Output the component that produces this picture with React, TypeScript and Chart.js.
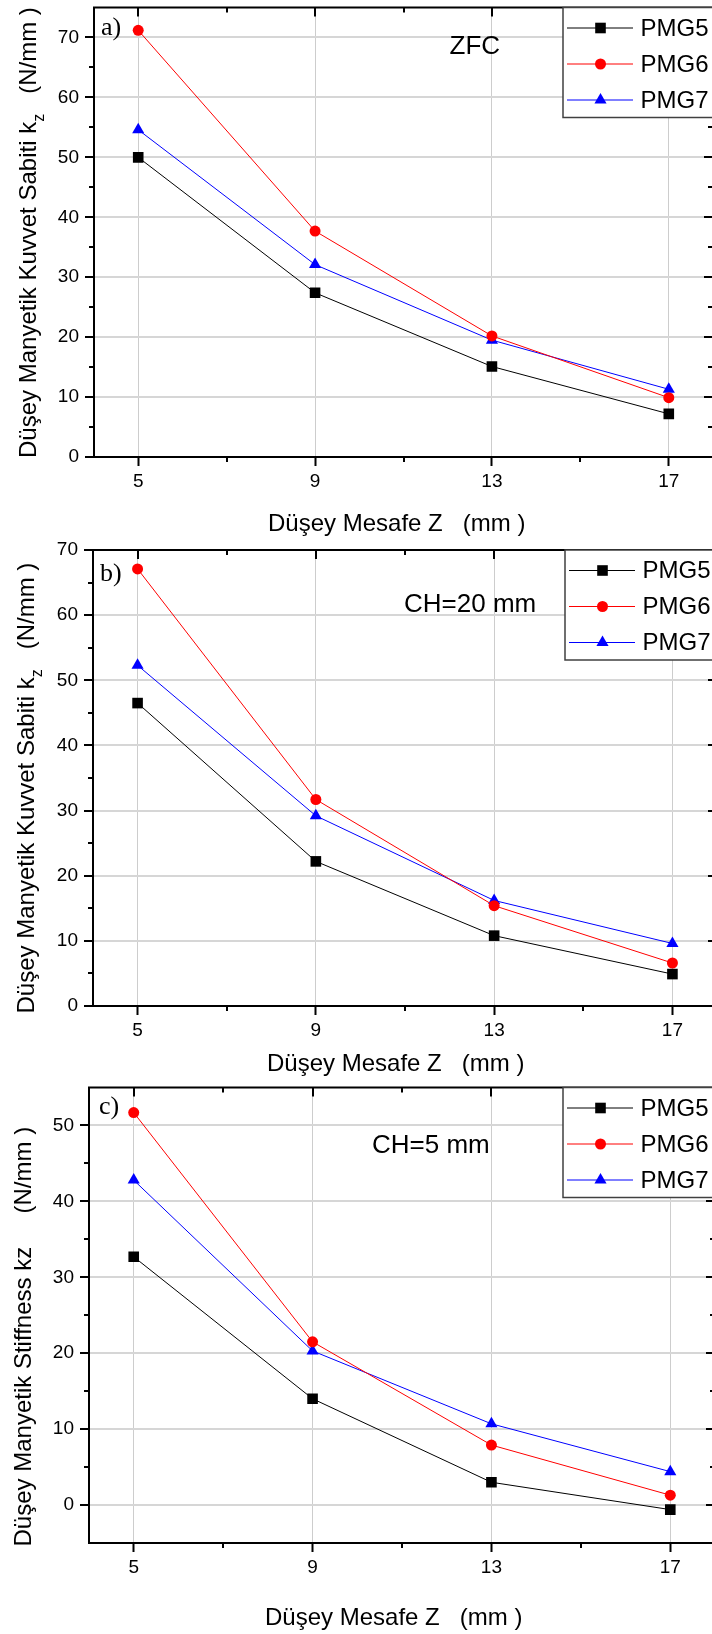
import React, { useEffect, useRef } from "react";
import { Chart, registerables } from "chart.js";

Chart.register(...registerables);

// ---------- data ----------
const distances = [5, 9, 13, 17];
const seriesNames = ["PMG5", "PMG6", "PMG7"];

// a) ZFC
const zfcPMG5 = [50.0, 27.4, 15.1, 7.2];
const zfcPMG6 = [71.2, 37.7, 20.2, 9.9];
const zfcPMG7 = [54.6, 32.1, 19.5, 11.3];

// b) CH = 20 mm
const ch20PMG5 = [46.5, 22.2, 10.8, 4.9];
const ch20PMG6 = [67.1, 31.7, 15.4, 6.6];
const ch20PMG7 = [52.3, 29.2, 16.2, 9.6];

// c) CH = 5 mm
const ch5PMG5 = [32.7, 14.0, 3.0, -0.6];
const ch5PMG6 = [51.7, 21.5, 7.9, 1.3];
const ch5PMG7 = [42.8, 20.3, 10.7, 4.4];

const xTicks = [5, 9, 13, 17];
const yTicksAB = [0, 10, 20, 30, 40, 50, 60, 70];
const yTicksC = [0, 10, 20, 30, 40, 50];

// ---------- styles ----------
const SANS = '"Liberation Sans", Arial, Helvetica, sans-serif';
const SERIF = '"Liberation Serif", "Times New Roman", serif';
const seriesColors = ["#000000", "#ff0000", "#0000ff"];
const seriesStyles = ["rect", "circle", "triangle"];
const seriesRadius = [7.5, 5.5, 7];

const CANVAS_W = 740;

type Part = { text: string; sub?: boolean };

type Panel = {
  canvasTop: number;
  canvasH: number;
  area: { left: number; top: number; right: number; bottom: number };
  xRange: [number, number];
  yRange: [number, number];
  yTicks: number[];
  series: number[][];
  tag: string;
  tagPos: [number, number];
  note: string;
  notePos: [number, number];
  yTitle: Part[];
  yTitlePos: [number, number];
  xTitle: string;
  xTitlePos: [number, number];
  legendLeft: number;
};

const panels: Panel[] = [
  {
    canvasTop: 0,
    canvasH: 540,
    area: { left: 94, top: 5, right: 713, bottom: 457 },
    xRange: [4, 18],
    yRange: [0, 75],
    yTicks: yTicksAB,
    series: [zfcPMG5, zfcPMG6, zfcPMG7],
    tag: "a)",
    tagPos: [101, 35],
    note: "ZFC",
    notePos: [449.5, 54],
    yTitle: [
      { text: "Düşey Manyetik Kuvvet Sabiti k" },
      { text: "z", sub: true },
      { text: "   (N/mm )" },
    ],
    yTitlePos: [35.5, 458],
    xTitle: "Düşey Mesafe Z   (mm )",
    xTitlePos: [268, 530.5],
    legendLeft: 563,
  },
  {
    canvasTop: 540,
    canvasH: 540,
    area: { left: 93, top: 10, right: 717, bottom: 466 },
    xRange: [4, 18],
    yRange: [0, 70],
    yTicks: yTicksAB,
    series: [ch20PMG5, ch20PMG6, ch20PMG7],
    tag: "b)",
    tagPos: [100, 40.5],
    note: "CH=20 mm",
    notePos: [404, 72],
    yTitle: [
      { text: "Düşey Manyetik Kuvvet Sabiti k" },
      { text: "z", sub: true },
      { text: "   (N/mm )" },
    ],
    yTitlePos: [34, 473.5],
    xTitle: "Düşey Mesafe Z   (mm )",
    xTitlePos: [267, 531],
    legendLeft: 565,
  },
  {
    canvasTop: 1080,
    canvasH: 554,
    area: { left: 89, top: 5, right: 715, bottom: 463 },
    xRange: [4, 18],
    yRange: [-5, 55],
    yTicks: yTicksC,
    series: [ch5PMG5, ch5PMG6, ch5PMG7],
    tag: "c)",
    tagPos: [99, 33.5],
    note: "CH=5 mm",
    notePos: [372, 73],
    yTitle: [{ text: "Düşey Manyetik Stiffness kz     (N/mm )" }],
    yTitlePos: [31, 466.5],
    xTitle: "Düşey Mesafe Z   (mm )",
    xTitlePos: [265, 545],
    legendLeft: 563,
  },
];

function minorValues(majors: number[], min: number, max: number): number[] {
  const out: number[] = [];
  const step = majors[1] - majors[0];
  const cands = [majors[0] - step / 2];
  for (let i = 0; i < majors.length - 1; i++) cands.push((majors[i] + majors[i + 1]) / 2);
  cands.push(majors[majors.length - 1] + step / 2);
  for (const c of cands) if (c > min && c < max) out.push(c);
  return out;
}

function drawMarker(ctx: CanvasRenderingContext2D, style: string, x: number, y: number, r: number, color: string) {
  ctx.save();
  ctx.fillStyle = color;
  ctx.beginPath();
  if (style === "rect") {
    const s = Math.SQRT1_2 * r;
    ctx.rect(x - s, y - s, 2 * s, 2 * s);
  } else if (style === "circle") {
    ctx.arc(x, y, r, 0, Math.PI * 2);
  } else {
    ctx.moveTo(x, y - r);
    ctx.lineTo(x + r * Math.sin((2 * Math.PI) / 3), y - r * Math.cos((2 * Math.PI) / 3));
    ctx.lineTo(x + r * Math.sin((4 * Math.PI) / 3), y - r * Math.cos((4 * Math.PI) / 3));
    ctx.closePath();
  }
  ctx.fill();
  ctx.restore();
}

const decorPlugin = {
  id: "decor",
  afterDraw(chart: any, _args: any, opts: any) {
    const p: Panel = opts.panel;
    const ctx: CanvasRenderingContext2D = chart.ctx;
    const { left, right, top, bottom } = chart.chartArea;
    const xs = chart.scales.x;
    const ys = chart.scales.y;
    ctx.save();
    ctx.strokeStyle = "#000";
    ctx.lineWidth = 2;

    // minor + mirrored ticks
    ctx.beginPath();
    for (const v of minorValues(xTicks, p.xRange[0], p.xRange[1])) {
      const px = Math.round(xs.getPixelForValue(v));
      ctx.moveTo(px, bottom);
      ctx.lineTo(px, bottom + 5);
      ctx.moveTo(px, top);
      ctx.lineTo(px, top + 5);
    }
    for (const v of xTicks) {
      const px = Math.round(xs.getPixelForValue(v));
      ctx.moveTo(px, top);
      ctx.lineTo(px, top + 9);
    }
    for (const v of minorValues(p.yTicks, p.yRange[0], p.yRange[1])) {
      const py = Math.round(ys.getPixelForValue(v));
      ctx.moveTo(left - 5, py);
      ctx.lineTo(left, py);
      ctx.moveTo(right - 5, py);
      ctx.lineTo(right, py);
    }
    for (const v of p.yTicks) {
      const py = Math.round(ys.getPixelForValue(v));
      ctx.moveTo(right - 9, py);
      ctx.lineTo(right, py);
    }
    ctx.stroke();

    // frame
    ctx.strokeRect(left, top, right - left, bottom - top);

    // legend
    const lx = p.legendLeft;
    ctx.fillStyle = "#fff";
    ctx.fillRect(lx, top, right + 10 - lx, 110);
    ctx.strokeStyle = "#404040";
    ctx.lineWidth = 1.5;
    ctx.strokeRect(lx, top, right + 10 - lx, 110);
    chart.data.datasets.forEach((ds: any, i: number) => {
      const ry = top + 20.5 + i * 36;
      ctx.strokeStyle = ds.borderColor;
      ctx.lineWidth = 1;
      ctx.beginPath();
      ctx.moveTo(lx + 4, ry);
      ctx.lineTo(lx + 70, ry);
      ctx.stroke();
      drawMarker(ctx, ds.pointStyle, lx + 37.5, ry, ds.pointRadius, ds.backgroundColor);
      ctx.fillStyle = "#000";
      ctx.font = `24px ${SANS}`;
      ctx.textAlign = "left";
      ctx.textBaseline = "middle";
      ctx.fillText(ds.label, lx + 77.5, ry + 1);
    });

    // panel tag & note
    ctx.fillStyle = "#000";
    ctx.textBaseline = "alphabetic";
    ctx.textAlign = "left";
    ctx.font = `26px ${SERIF}`;
    ctx.fillText(p.tag, p.tagPos[0], p.tagPos[1]);
    ctx.font = `26px ${SANS}`;
    ctx.fillText(p.note, p.notePos[0], p.notePos[1]);

    // x title
    ctx.font = `24px ${SANS}`;
    ctx.fillText(p.xTitle, p.xTitlePos[0], p.xTitlePos[1]);

    // y title (rotated)
    ctx.save();
    ctx.translate(p.yTitlePos[0], p.yTitlePos[1]);
    ctx.rotate(-Math.PI / 2);
    let cx = 0;
    for (const part of p.yTitle) {
      ctx.font = part.sub ? `16px ${SANS}` : `24px ${SANS}`;
      ctx.fillText(part.text, cx, part.sub ? 8 : 0);
      cx += ctx.measureText(part.text).width;
    }
    ctx.restore();

    ctx.restore();
  },
};

function PanelChart({ panel }: { panel: Panel }) {
  const ref = useRef<HTMLCanvasElement | null>(null);
  useEffect(() => {
    if (!ref.current) return;
    const { area, canvasH } = panel;
    const datasets = seriesNames.map((name, i) => ({
      label: name,
      data: distances.map((x, j) => ({ x, y: panel.series[i][j] })),
      borderColor: seriesColors[i],
      backgroundColor: seriesColors[i],
      borderWidth: 1,
      pointStyle: seriesStyles[i],
      pointRadius: seriesRadius[i],
      pointBorderWidth: 0,
      pointBackgroundColor: seriesColors[i],
      showLine: true,
      tension: 0,
    }));
    const chart = new Chart(ref.current, {
      type: "scatter",
      data: { datasets },
      plugins: [decorPlugin],
      options: {
        responsive: false,
        animation: false,
        events: [],
        layout: {
          padding: { left: 0, top: area.top, right: CANVAS_W - area.right, bottom: 0 },
        },
        plugins: {
          legend: { display: false },
          tooltip: { enabled: false },
          title: { display: false },
          decor: { panel },
        } as any,
        scales: {
          x: {
            type: "linear",
            min: panel.xRange[0],
            max: panel.xRange[1],
            afterBuildTicks: (s: any) => {
              s.ticks = xTicks.map((v) => ({ value: v }));
            },
            afterFit: (s: any) => {
              s.height = canvasH - area.bottom;
              s.paddingLeft = 0;
              s.paddingRight = 0;
            },
            ticks: {
              color: "#000",
              font: { family: SANS, size: 19 },
              padding: 4,
              maxRotation: 0,
              autoSkip: false,
              callback: (v: any) => String(v),
            },
            grid: {
              color: "#cdcdcd",
              lineWidth: 1,
              tickColor: "#000",
              tickLength: 9,
              tickWidth: 2,
            },
            border: { display: false },
          },
          y: {
            type: "linear",
            min: panel.yRange[0],
            max: panel.yRange[1],
            afterBuildTicks: (s: any) => {
              s.ticks = panel.yTicks.map((v) => ({ value: v }));
            },
            afterFit: (s: any) => {
              s.width = area.left;
              s.paddingTop = 0;
              s.paddingBottom = 0;
            },
            ticks: {
              color: "#000",
              font: { family: SANS, size: 19 },
              padding: 6,
              autoSkip: false,
              callback: (v: any) => String(v),
            },
            grid: {
              color: "#d6d6d6",
              lineWidth: 2,
              tickColor: "#000",
              tickLength: 9,
              tickWidth: 2,
            },
            border: { display: false },
          },
        },
      } as any,
    });
    return () => chart.destroy();
  }, [panel]);
  return (
    <canvas
      ref={ref}
      width={CANVAS_W}
      height={panel.canvasH}
      style={{
        position: "absolute",
        left: 0,
        top: panel.canvasTop,
        width: CANVAS_W,
        height: panel.canvasH,
      }}
    />
  );
}

export default function App() {
  return (
    <div
      style={{
        position: "absolute",
        left: 0,
        top: 0,
        width: 712,
        height: 1634,
        overflow: "hidden",
        background: "#fff",
      }}
    >
      {panels.map((p, i) => (
        <PanelChart key={i} panel={p} />
      ))}
    </div>
  );
}
